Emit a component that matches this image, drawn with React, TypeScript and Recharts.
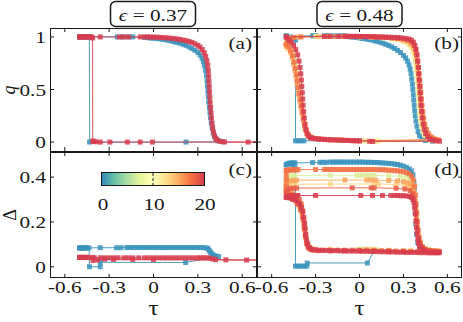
import { ScatterChart, Scatter, XAxis, YAxis } from 'recharts'

type P = [number, number]

const tauTicks = [-0.6, -0.3, 0, 0.3, 0.6]
const tauDomain = [-0.7, 0.7]
const qTicks = [0, 0.5, 1]
const qDomain = [-0.085, 1.085]
const deltaTicks = [0, 0.2, 0.4]
const deltaDomain = [-0.05, 0.512]
const epsilons = ['0.37', '0.48']
const panelNames = ['(a)', '(b)', '(c)', '(d)']
const barTicks = ['0', '10', '20']

// colours of the colour scale (0 -> 20)
const C0 = '#3a93bd'
const C8 = '#dcef9c'
const C10 = '#f1ec98'
const C12 = '#fed282'
const C14 = '#fdba68'
const C15 = '#fca75d'
const C17 = '#f47347'
const C18 = '#e95c47'
const C20 = '#d73c4e'

// (a) q, eps = 0.37
const a0: P[] = [[-0.5,1],[-0.48,1],[-0.46,1],[-0.44,1],[-0.245,1],[-0.21,1],[-0.165,1],[-0.14,1],[-0.06,0.995],[-0.04,0.993],[-0.02,0.99],[0,0.988],[0.02,0.985],[0.04,0.982],[0.06,0.978],[0.08,0.973],[0.1,0.968],[0.12,0.962],[0.14,0.955],[0.16,0.948],[0.18,0.94],[0.2,0.93],[0.22,0.92],[0.24,0.905],[0.26,0.89],[0.28,0.872],[0.3,0.852],[0.315,0.828],[0.328,0.798],[0.338,0.762],[0.346,0.722],[0.353,0.68],[0.358,0.63],[0.362,0.58],[0.365,0.53],[0.368,0.48],[0.371,0.43],[0.374,0.38],[0.378,0.33],[0.382,0.28],[0.386,0.23],[0.391,0.18],[0.397,0.13],[0.405,0.085],[0.414,0.05],[0.427,0.025],[0.442,0.01],[0.47,0.003],[0.22,0],[-0.432,0],[-0.434,1],[-0.47,1],[-0.5,1]]
const a20: P[] = [[-0.5,1],[-0.36,1],[-0.23,1],[-0.2,1],[-0.17,1],[-0.09,1],[-0.06,1],[-0.04,1],[-0.02,0.999],[0,0.998],[0.02,0.997],[0.04,0.996],[0.06,0.994],[0.08,0.992],[0.1,0.99],[0.12,0.987],[0.14,0.984],[0.16,0.98],[0.18,0.976],[0.2,0.97],[0.22,0.964],[0.24,0.957],[0.26,0.948],[0.28,0.935],[0.3,0.92],[0.315,0.903],[0.33,0.88],[0.343,0.85],[0.353,0.815],[0.361,0.775],[0.367,0.73],[0.371,0.68],[0.373,0.63],[0.375,0.58],[0.377,0.53],[0.379,0.48],[0.381,0.43],[0.383,0.38],[0.386,0.33],[0.389,0.28],[0.392,0.23],[0.396,0.18],[0.4,0.135],[0.405,0.095],[0.412,0.06],[0.422,0.032],[0.435,0.014],[0.455,0.005],[0.48,0.001],[0.64,0],[0.75,0],[-0.007,0],[-0.09,0],[-0.177,0],[-0.295,0],[-0.36,0],[-0.39,0.003],[-0.405,0.006],[-0.411,0.01],[-0.412,0.99],[-0.42,1],[-0.43,1],[-0.44,1],[-0.45,1],[-0.46,1],[-0.47,1],[-0.48,1],[-0.49,1],[-0.5,1]]

// (c) Delta, eps = 0.37
const c0: P[] = [[-0.5,0.084],[-0.49,0.084],[-0.48,0.084],[-0.47,0.084],[-0.46,0.084],[-0.45,0.084],[-0.36,0.085],[-0.25,0.085],[-0.22,0.085],[-0.18,0.086],[-0.16,0.086],[-0.14,0.086],[-0.12,0.086],[-0.1,0.086],[-0.08,0.086],[-0.06,0.086],[-0.04,0.086],[-0.02,0.086],[0,0.086],[0.02,0.086],[0.04,0.086],[0.06,0.086],[0.08,0.086],[0.1,0.086],[0.12,0.086],[0.14,0.086],[0.16,0.086],[0.18,0.086],[0.2,0.086],[0.22,0.086],[0.24,0.086],[0.26,0.086],[0.28,0.086],[0.3,0.086],[0.32,0.086],[0.34,0.085],[0.36,0.084],[0.37,0.08],[0.378,0.072],[0.386,0.064],[0.395,0.057],[0.405,0.052],[0.42,0.048],[0.44,0.046],[0.218,0.019],[-0.36,0.02],[-0.36,0],[-0.433,0],[-0.436,0.084],[-0.47,0.084],[-0.5,0.084]]
const c20: P[] = [[-0.5,0.042],[-0.49,0.042],[-0.48,0.042],[-0.47,0.042],[-0.46,0.042],[-0.44,0.041],[-0.4,0.04],[-0.36,0.04],[-0.33,0.04],[-0.3,0.04],[-0.27,0.04],[-0.24,0.04],[-0.2,0.04],[-0.17,0.04],[-0.14,0.04],[-0.1,0.04],[-0.06,0.04],[-0.03,0.04],[0,0.04],[0.03,0.04],[0.06,0.04],[0.09,0.04],[0.12,0.04],[0.15,0.04],[0.18,0.04],[0.21,0.04],[0.24,0.04],[0.27,0.04],[0.3,0.04],[0.32,0.04],[0.34,0.04],[0.36,0.04],[0.38,0.039],[0.4,0.035],[0.42,0.032],[0.49,0.031],[0.63,0.03],[0.75,0.03],[0,0.032],[-0.14,0.033],[-0.27,0.033],[-0.33,0.034],[-0.38,0.03],[-0.41,0.028],[-0.413,0.042],[-0.45,0.042],[-0.5,0.042]]

// (b) q, eps = 0.48
const b0: P[] = [[-0.5,1.01],[-0.32,1.01],[-0.31,1.01],[-0.3,1.01],[-0.24,1.01],[-0.22,1.01],[-0.2,1.01],[-0.17,1.01],[-0.14,1.01],[-0.12,1.01],[-0.1,1.01],[-0.08,1.005],[-0.06,1],[-0.04,0.998],[-0.02,0.995],[0,0.99],[0.02,0.986],[0.04,0.982],[0.06,0.977],[0.08,0.971],[0.1,0.965],[0.12,0.957],[0.14,0.949],[0.16,0.94],[0.18,0.93],[0.2,0.918],[0.22,0.905],[0.24,0.89],[0.26,0.872],[0.28,0.852],[0.3,0.825],[0.315,0.8],[0.328,0.77],[0.338,0.735],[0.346,0.695],[0.352,0.65],[0.357,0.6],[0.361,0.55],[0.365,0.5],[0.368,0.45],[0.371,0.4],[0.374,0.35],[0.377,0.3],[0.381,0.25],[0.386,0.2],[0.392,0.15],[0.4,0.1],[0.41,0.06],[0.425,0.03],[0.45,0.015],[0.5,0.008],[-0.38,0.012],[-0.4,0.012],[-0.42,0.012],[-0.437,0.012],[-0.437,0.97],[-0.47,1],[-0.5,1.01]]
const b10: P[] = [[-0.5,0.96],[-0.4,1],[-0.3,1.005],[-0.2,1.005],[-0.1,1.003],[0,1],[0.08,0.997],[0.16,0.99],[0.22,0.982],[0.26,0.972],[0.3,0.955],[0.33,0.93],[0.352,0.9],[0.366,0.86],[0.376,0.81],[0.383,0.75],[0.388,0.69],[0.392,0.63],[0.395,0.57],[0.398,0.51],[0.401,0.45],[0.404,0.39],[0.407,0.33],[0.411,0.27],[0.416,0.21],[0.423,0.15],[0.433,0.1],[0.447,0.06],[0.465,0.035],[0.49,0.02],[0.52,0.012],[0.13,0.008],[0.11,0.008],[0.05,0.011],[0.03,0.012],[-0.04,0.014],[-0.1,0.017],[-0.16,0.02],[-0.22,0.024],[-0.28,0.03],[-0.32,0.038],[-0.345,0.05],[-0.36,0.075],[-0.372,0.12],[-0.38,0.18],[-0.386,0.24],[-0.391,0.3],[-0.396,0.36],[-0.4,0.42],[-0.404,0.48],[-0.408,0.54],[-0.413,0.6],[-0.419,0.66],[-0.427,0.72],[-0.437,0.78],[-0.45,0.84],[-0.465,0.89],[-0.48,0.93],[-0.5,0.96]]
const b14: P[] = [[-0.5,0.91],[-0.47,0.99],[-0.42,1],[-0.28,1.005],[-0.2,1.005],[-0.12,1.005],[-0.07,1.004],[-0.05,1.004],[0,1.003],[0.1,0.999],[0.18,0.993],[0.24,0.985],[0.29,0.972],[0.325,0.955],[0.35,0.93],[0.368,0.895],[0.38,0.85],[0.388,0.79],[0.394,0.73],[0.399,0.67],[0.403,0.61],[0.407,0.55],[0.411,0.49],[0.415,0.43],[0.419,0.37],[0.424,0.31],[0.43,0.25],[0.437,0.19],[0.447,0.135],[0.46,0.09],[0.478,0.058],[0.5,0.038],[0.53,0.025],[-0.02,0.012],[-0.08,0.015],[-0.14,0.018],[-0.2,0.022],[-0.26,0.027],[-0.3,0.033],[-0.328,0.044],[-0.347,0.062],[-0.36,0.095],[-0.371,0.14],[-0.38,0.2],[-0.388,0.26],[-0.396,0.32],[-0.404,0.38],[-0.412,0.44],[-0.419,0.5],[-0.426,0.56],[-0.433,0.62],[-0.441,0.68],[-0.45,0.74],[-0.46,0.8],[-0.473,0.85],[-0.488,0.89],[-0.5,0.91]]
const b17: P[] = [[-0.5,0.93],[-0.45,0.995],[-0.4,1],[-0.24,1.005],[-0.22,1.005],[-0.16,1.005],[-0.1,1.005],[-0.06,1.005],[-0.02,1.005],[0.02,1.004],[0.06,1.003],[0.1,1],[0.14,0.998],[0.18,0.995],[0.22,0.99],[0.26,0.985],[0.3,0.978],[0.33,0.968],[0.355,0.95],[0.372,0.92],[0.384,0.88],[0.392,0.83],[0.398,0.77],[0.403,0.71],[0.407,0.65],[0.411,0.59],[0.415,0.53],[0.419,0.47],[0.423,0.41],[0.427,0.35],[0.432,0.29],[0.438,0.23],[0.446,0.17],[0.457,0.12],[0.47,0.08],[0.488,0.05],[0.51,0.03],[0.54,0.02],[0,0.012],[-0.04,0.014],[-0.08,0.016],[-0.12,0.018],[-0.16,0.02],[-0.2,0.023],[-0.24,0.026],[-0.28,0.03],[-0.31,0.036],[-0.335,0.048],[-0.352,0.07],[-0.365,0.11],[-0.375,0.16],[-0.384,0.22],[-0.392,0.28],[-0.4,0.34],[-0.407,0.4],[-0.414,0.46],[-0.42,0.52],[-0.426,0.58],[-0.432,0.64],[-0.44,0.7],[-0.448,0.76],[-0.458,0.82],[-0.47,0.87],[-0.485,0.91],[-0.5,0.93]]
const b20: P[] = [[-0.5,1],[-0.24,1.005],[-0.2,1.005],[-0.14,1.005],[-0.1,1.005],[-0.08,1.005],[-0.06,1.005],[-0.04,1.005],[-0.02,1.005],[0,1.005],[0.02,1.004],[0.04,1.004],[0.06,1.003],[0.08,1.003],[0.1,1.002],[0.12,1.001],[0.14,1],[0.16,0.999],[0.18,0.998],[0.2,0.997],[0.22,0.996],[0.24,0.995],[0.26,0.993],[0.28,0.991],[0.3,0.988],[0.32,0.984],[0.34,0.978],[0.355,0.968],[0.368,0.95],[0.378,0.92],[0.386,0.88],[0.392,0.83],[0.397,0.77],[0.401,0.71],[0.405,0.65],[0.408,0.59],[0.411,0.53],[0.414,0.47],[0.417,0.41],[0.42,0.35],[0.424,0.29],[0.428,0.23],[0.434,0.17],[0.442,0.12],[0.452,0.08],[0.465,0.05],[0.48,0.03],[0.5,0.018],[0.52,0.012],[0.546,0.008],[0.09,0.006],[0.07,0.007],[0,0.011],[-0.02,0.012],[-0.04,0.013],[-0.06,0.014],[-0.08,0.015],[-0.1,0.016],[-0.12,0.018],[-0.14,0.019],[-0.16,0.02],[-0.18,0.021],[-0.2,0.022],[-0.22,0.023],[-0.24,0.025],[-0.26,0.027],[-0.28,0.029],[-0.3,0.032],[-0.32,0.036],[-0.335,0.042],[-0.348,0.055],[-0.358,0.08],[-0.366,0.12],[-0.372,0.17],[-0.377,0.23],[-0.381,0.29],[-0.385,0.35],[-0.388,0.41],[-0.391,0.47],[-0.394,0.53],[-0.397,0.59],[-0.401,0.65],[-0.406,0.71],[-0.413,0.77],[-0.422,0.83],[-0.435,0.88],[-0.45,0.92],[-0.465,0.95],[-0.48,0.97],[-0.49,0.98],[-0.5,1]]

// (d) Delta, eps = 0.48
const d0: P[] = [[-0.5,0.455],[-0.49,0.46],[-0.48,0.462],[-0.47,0.462],[-0.46,0.463],[-0.45,0.463],[-0.44,0.463],[-0.32,0.465],[-0.27,0.466],[-0.25,0.466],[-0.23,0.466],[-0.2,0.467],[-0.18,0.467],[-0.16,0.467],[-0.14,0.467],[-0.12,0.467],[-0.1,0.467],[-0.08,0.467],[-0.06,0.467],[-0.04,0.467],[-0.02,0.467],[0,0.467],[0.02,0.467],[0.04,0.466],[0.06,0.466],[0.08,0.466],[0.1,0.465],[0.12,0.465],[0.14,0.464],[0.16,0.463],[0.18,0.462],[0.2,0.461],[0.22,0.46],[0.24,0.458],[0.26,0.456],[0.28,0.453],[0.3,0.449],[0.32,0.444],[0.34,0.437],[0.355,0.427],[0.365,0.41],[0.371,0.38],[0.375,0.34],[0.378,0.29],[0.381,0.24],[0.385,0.19],[0.39,0.145],[0.398,0.108],[0.41,0.085],[0.43,0.074],[0.46,0.07],[0.5,0.068],[0.3,0.069],[0.1,0.07],[0.054,0.017],[-0.357,0.017],[-0.36,0.003],[-0.38,0.003],[-0.4,0.003],[-0.42,0.003],[-0.437,0.003],[-0.437,0.3],[-0.44,0.44],[-0.46,0.455],[-0.5,0.455]]
const d8: P[] = [[-0.5,0.39],[-0.49,0.4],[-0.48,0.405],[-0.46,0.407],[-0.44,0.407],[-0.2,0.408],[-0.02,0.408],[0,0.408],[0.02,0.408],[0.04,0.408],[0.06,0.408],[0.08,0.407],[0.1,0.407],[0.2,0.406],[0.28,0.403],[0.32,0.399],[0.345,0.392],[0.36,0.38],[0.37,0.36],[0.377,0.33],[0.382,0.29],[0.387,0.25],[0.392,0.21],[0.397,0.17],[0.404,0.135],[0.413,0.108],[0.426,0.09],[0.445,0.08],[0.48,0.075],[0.52,0.073],[0.2,0.074],[0.12,0.076],[0.1,0.077],[0.07,0.078],[0.04,0.078],[0.02,0.078],[-0.01,0.078],[-0.2,0.078],[-0.3,0.079],[-0.335,0.084],[-0.352,0.1],[-0.363,0.13],[-0.372,0.17],[-0.381,0.21],[-0.392,0.25],[-0.408,0.285],[-0.43,0.31],[-0.46,0.33],[-0.485,0.35],[-0.5,0.37],[-0.5,0.39]]
const d12: P[] = [[-0.5,0.36],[-0.48,0.366],[-0.46,0.368],[-0.44,0.368],[-0.2,0.369],[0.1,0.369],[0.13,0.369],[0.25,0.367],[0.31,0.363],[0.34,0.357],[0.358,0.345],[0.369,0.325],[0.377,0.295],[0.383,0.26],[0.389,0.22],[0.395,0.18],[0.402,0.14],[0.411,0.11],[0.424,0.09],[0.445,0.079],[0.48,0.074],[0.53,0.072],[0.35,0.073],[0.1,0.076],[0.07,0.077],[0.04,0.077],[-0.2,0.077],[-0.32,0.078],[-0.345,0.088],[-0.36,0.112],[-0.371,0.15],[-0.381,0.19],[-0.393,0.23],[-0.41,0.265],[-0.435,0.29],[-0.465,0.31],[-0.49,0.33],[-0.5,0.345],[-0.5,0.36]]
const d15: P[] = [[-0.5,0.37],[-0.49,0.38],[-0.47,0.385],[-0.45,0.385],[-0.43,0.386],[-0.1,0.387],[0.05,0.387],[0.08,0.387],[0.11,0.386],[0.2,0.385],[0.26,0.383],[0.3,0.38],[0.33,0.375],[0.35,0.367],[0.363,0.352],[0.372,0.33],[0.379,0.3],[0.385,0.26],[0.39,0.22],[0.396,0.18],[0.403,0.14],[0.412,0.11],[0.425,0.09],[0.445,0.08],[0.47,0.075],[0.5,0.072],[0.53,0.07],[0.3,0.071],[0.2,0.072],[0,0.073],[-0.15,0.073],[-0.3,0.074],[-0.335,0.08],[-0.353,0.097],[-0.365,0.125],[-0.375,0.165],[-0.384,0.205],[-0.396,0.245],[-0.412,0.275],[-0.435,0.3],[-0.462,0.32],[-0.488,0.34],[-0.5,0.355],[-0.5,0.37]]
const d17: P[] = [[-0.5,0.43],[-0.49,0.431],[-0.48,0.432],[-0.47,0.432],[-0.46,0.432],[-0.45,0.433],[-0.44,0.433],[-0.43,0.433],[-0.42,0.433],[-0.3,0.434],[-0.24,0.434],[-0.22,0.434],[-0.2,0.434],[-0.18,0.434],[-0.16,0.434],[-0.14,0.434],[-0.12,0.434],[-0.1,0.434],[-0.08,0.434],[-0.06,0.434],[-0.04,0.434],[-0.02,0.434],[0,0.434],[0.02,0.434],[0.04,0.434],[0.06,0.434],[0.08,0.434],[0.1,0.434],[0.12,0.433],[0.14,0.433],[0.16,0.433],[0.18,0.432],[0.2,0.431],[0.22,0.43],[0.24,0.429],[0.26,0.428],[0.28,0.426],[0.3,0.424],[0.32,0.42],[0.34,0.414],[0.355,0.404],[0.367,0.388],[0.376,0.36],[0.382,0.32],[0.387,0.28],[0.391,0.24],[0.395,0.2],[0.4,0.16],[0.406,0.125],[0.414,0.1],[0.425,0.085],[0.44,0.077],[0.46,0.073],[0.48,0.071],[0.5,0.07],[0.52,0.07],[0.545,0.069],[0.5,0.068],[0.45,0.068],[0.4,0.068],[0.35,0.068],[0.3,0.069],[0.25,0.07],[0.2,0.071],[0.15,0.072],[0.1,0.073],[0.05,0.074],[0,0.074],[-0.05,0.074],[-0.1,0.074],[-0.15,0.074],[-0.2,0.074],[-0.25,0.074],[-0.3,0.075],[-0.33,0.077],[-0.35,0.085],[-0.362,0.105],[-0.37,0.135],[-0.377,0.17],[-0.383,0.21],[-0.39,0.25],[-0.398,0.28],[-0.41,0.3],[-0.43,0.315],[-0.46,0.325],[-0.49,0.335],[-0.5,0.36],[-0.5,0.39],[-0.5,0.41],[-0.5,0.43]]
const d18: P[] = [[-0.5,0.335],[-0.49,0.345],[-0.47,0.35],[-0.45,0.35],[-0.43,0.351],[-0.05,0.352],[0.08,0.352],[0.1,0.352],[0.25,0.35],[0.31,0.347],[0.345,0.34],[0.362,0.326],[0.372,0.305],[0.38,0.275],[0.386,0.24],[0.392,0.2],[0.398,0.165],[0.406,0.13],[0.416,0.105],[0.43,0.088],[0.45,0.078],[0.48,0.072],[0.51,0.069],[0.54,0.067],[0.4,0.067],[0.3,0.068],[0.2,0.069],[0.1,0.07],[0,0.071],[-0.1,0.071],[-0.2,0.071],[-0.28,0.072],[-0.32,0.075],[-0.342,0.085],[-0.357,0.105],[-0.368,0.14],[-0.377,0.18],[-0.388,0.22],[-0.403,0.255],[-0.425,0.28],[-0.455,0.3],[-0.48,0.315],[-0.5,0.325],[-0.5,0.335]]
const d20: P[] = [[-0.5,0.31],[-0.49,0.316],[-0.47,0.318],[-0.45,0.318],[-0.42,0.318],[-0.3,0.318],[0.009,0.318],[0.089,0.318],[0.157,0.318],[0.214,0.318],[0.24,0.318],[0.26,0.318],[0.28,0.317],[0.3,0.317],[0.32,0.316],[0.34,0.314],[0.355,0.31],[0.365,0.3],[0.372,0.285],[0.377,0.262],[0.381,0.235],[0.385,0.205],[0.389,0.175],[0.393,0.148],[0.398,0.124],[0.404,0.104],[0.412,0.09],[0.422,0.08],[0.435,0.074],[0.45,0.07],[0.47,0.067],[0.49,0.065],[0.51,0.064],[0.53,0.064],[0.546,0.063],[0.53,0.062],[0.5,0.062],[0.47,0.062],[0.44,0.063],[0.41,0.063],[0.38,0.064],[0.35,0.064],[0.32,0.064],[0.29,0.065],[0.26,0.065],[0.23,0.066],[0.2,0.066],[0.17,0.067],[0.14,0.067],[0.11,0.068],[0.08,0.068],[0.05,0.069],[0.02,0.069],[-0.01,0.07],[-0.04,0.07],[-0.07,0.07],[-0.1,0.071],[-0.13,0.071],[-0.16,0.072],[-0.19,0.072],[-0.22,0.073],[-0.25,0.073],[-0.28,0.074],[-0.31,0.076],[-0.33,0.079],[-0.345,0.086],[-0.355,0.1],[-0.362,0.12],[-0.367,0.145],[-0.371,0.17],[-0.375,0.195],[-0.38,0.22],[-0.386,0.245],[-0.395,0.265],[-0.407,0.28],[-0.42,0.29],[-0.435,0.297],[-0.45,0.302],[-0.465,0.305],[-0.48,0.308],[-0.5,0.31]]

type Series = { data: P[]; color: string }

const panelA: Series[] = [{ data: a0, color: C0 }, { data: a20, color: C20 }]
const panelB: Series[] = [
  { data: b0, color: C0 },
  { data: b10, color: C10 },
  { data: b14, color: C14 },
  { data: b17, color: C17 },
  { data: b20, color: C20 },
]
const panelC: Series[] = [{ data: c0, color: C0 }, { data: c20, color: C20 }]
const panelD: Series[] = [
  { data: d0, color: C0 },
  { data: d8, color: C8 },
  { data: d12, color: C12 },
  { data: d15, color: C15 },
  { data: d17, color: C17 },
  { data: d18, color: C18 },
  { data: d20, color: C20 },
]

const INK = '#1a1a1a'
const SERIF = '"Liberation Serif", "Times New Roman", serif'
const STRETCH = 1.25
const TICK = 4

const pts = (a: P[]) => a.map(([t, v]) => ({ t, v }))

type Geo = { left: number; right: number; top: number; bottom: number }

const xTick = (g: Geo, label: boolean) => (p: any) => (
  <g>
    <line x1={p.x} x2={p.x} y1={g.bottom} y2={g.bottom - TICK} stroke={INK} />
    <line x1={p.x} x2={p.x} y1={g.top} y2={g.top + TICK} stroke={INK} />
    {label && (
      <text transform={`translate(${p.x} ${g.bottom + 15}) scale(${STRETCH} 1)`} textAnchor="middle"
        fontSize={17} fontFamily={SERIF} fill={INK}>
        {String(p.payload.value)}
      </text>
    )}
  </g>
)

const yTick = (g: Geo, label: boolean) => (p: any) => (
  <g>
    <line x1={g.left} x2={g.left + TICK} y1={p.y} y2={p.y} stroke={INK} />
    <line x1={g.right - TICK} x2={g.right} y1={p.y} y2={p.y} stroke={INK} />
    {label && (
      <text transform={`translate(${g.left - 4} ${p.y + 6}) scale(${STRETCH} 1)`} textAnchor="end"
        fontSize={17} fontFamily={SERIF} fill={INK}>
        {String(p.payload.value)}
      </text>
    )}
  </g>
)

const square = (color: string) => (p: any) => (
  <rect x={p.cx - 2.5} y={p.cy - 2.5} width={5} height={5} fill={color} fillOpacity={0.85} />
)

type PanelProps = {
  left: number; top: number; w: number; h: number; axisW: number; mTop: number; plotH: number
  yDomain: number[]; yTicks: number[]; showX: boolean; showY: boolean; series: Series[]
}

function Panel({ left, top, w, h, axisW, mTop, plotH, yDomain, yTicks, showX, showY, series }: PanelProps) {
  const g = { left: axisW, right: w, top: mTop, bottom: mTop + plotH }
  return (
    <div style={{ position: 'absolute', left, top }}>
      <ScatterChart width={w} height={h} margin={{ top: mTop, right: 0, bottom: 0, left: 0 }}>
        <XAxis type="number" dataKey="t" domain={tauDomain} ticks={tauTicks} interval={0} allowDataOverflow
          height={h - mTop - plotH} axisLine={false} tickLine={false} tickSize={0} tickMargin={0}
          tick={xTick(g, showX)} />
        <YAxis type="number" dataKey="v" domain={yDomain} ticks={yTicks} interval={0} allowDataOverflow
          width={axisW} axisLine={false} tickLine={false} tickSize={0} tickMargin={0}
          tick={yTick(g, showY)} />
        {series.map((s, i) => (
          <Scatter key={i} data={pts(s.data)} fill={s.color} lineType="joint"
            line={{ stroke: s.color, strokeWidth: 1, strokeOpacity: 0.9 }}
            shape={square(s.color)} isAnimationActive={false} />
        ))}
      </ScatterChart>
    </div>
  )
}

const stretched = (x: number, y: number) => `translate(${x} ${y}) scale(${STRETCH} 1)`

export default function App() {
  return (
    <div style={{ position: 'absolute', left: 0, top: 0, width: 463, height: 322, background: '#fff' }}>
      <Panel left={0} top={0} w={257} h={152} axisW={50} mTop={28} plotH={123}
        yDomain={qDomain} yTicks={qTicks} showX={false} showY series={panelA} />
      <Panel left={207} top={0} w={255} h={152} axisW={50} mTop={28} plotH={123}
        yDomain={qDomain} yTicks={qTicks} showX={false} showY={false} series={panelB} />
      <Panel left={0} top={152} w={257} h={170} axisW={50} mTop={0} plotH={126}
        yDomain={deltaDomain} yTicks={deltaTicks} showX showY series={panelC} />
      <Panel left={207} top={152} w={255} h={170} axisW={50} mTop={0} plotH={126}
        yDomain={deltaDomain} yTicks={deltaTicks} showX showY={false} series={panelD} />

      <svg width={463} height={322} style={{ position: 'absolute', left: 0, top: 0, pointerEvents: 'none' }}
        fontFamily={SERIF} fill={INK}>
        <defs>
          <linearGradient id="spectral" x1="0" x2="1" y1="0" y2="0">
            <stop offset="0" stopColor="#3288bd" />
            <stop offset="0.125" stopColor="#66c2a5" />
            <stop offset="0.25" stopColor="#abdda4" />
            <stop offset="0.375" stopColor="#e6f598" />
            <stop offset="0.5" stopColor="#ffffbf" />
            <stop offset="0.625" stopColor="#fee08b" />
            <stop offset="0.75" stopColor="#fdae61" />
            <stop offset="0.875" stopColor="#f46d43" />
            <stop offset="1" stopColor="#d53e4f" />
          </linearGradient>
        </defs>

        {/* frames */}
        <rect x={50.5} y={28.5} width={206} height={123} fill="none" stroke={INK} />
        <rect x={257.5} y={28.5} width={204} height={123} fill="none" stroke={INK} />
        <rect x={50.5} y={152.5} width={206} height={125} fill="none" stroke={INK} />
        <rect x={257.5} y={152.5} width={204} height={125} fill="none" stroke={INK} />

        {/* titles */}
        {epsilons.map((e, i) => {
          const cx = i === 0 ? 153 : 359.5
          return (
            <g key={e}>
              <rect x={cx - 42.5} y={1.5} width={85} height={25} rx={5} fill="#fff" stroke={INK} strokeWidth={1.5} />
              <text transform={stretched(cx, 21)} textAnchor="middle" fontSize={17}>
                <tspan fontStyle="italic">ϵ</tspan> = {e}
              </text>
            </g>
          )
        })}

        {/* panel letters */}
        <text transform={stretched(252, 49)} textAnchor="end" fontSize={17}>{panelNames[0]}</text>
        <text transform={stretched(459, 49)} textAnchor="end" fontSize={17}>{panelNames[1]}</text>
        <text transform={stretched(252, 175)} textAnchor="end" fontSize={17}>{panelNames[2]}</text>
        <text transform={stretched(459, 175)} textAnchor="end" fontSize={17}>{panelNames[3]}</text>

        {/* axis labels */}
        <text transform="translate(15 90) rotate(-90)" textAnchor="middle" fontSize={18} fontStyle="italic">q</text>
        <text transform="translate(16 215) rotate(-90)" textAnchor="middle" fontSize={18}>Δ</text>
        <text transform={stretched(153.5, 315)} textAnchor="middle" fontSize={20}>τ</text>
        <text transform={stretched(359.5, 315)} textAnchor="middle" fontSize={20}>τ</text>

        {/* colour bar */}
        <rect x={101.5} y={172.5} width={103} height={13} fill="url(#spectral)" stroke={INK} />
        <line x1={153} x2={153} y1={173} y2={185} stroke={INK} strokeDasharray="3 2" />
        {barTicks.map((t, i) => (
          <text key={t} transform={stretched(103 + i * 51, 210)} textAnchor="middle" fontSize={17}>{t}</text>
        ))}
      </svg>
    </div>
  )
}
